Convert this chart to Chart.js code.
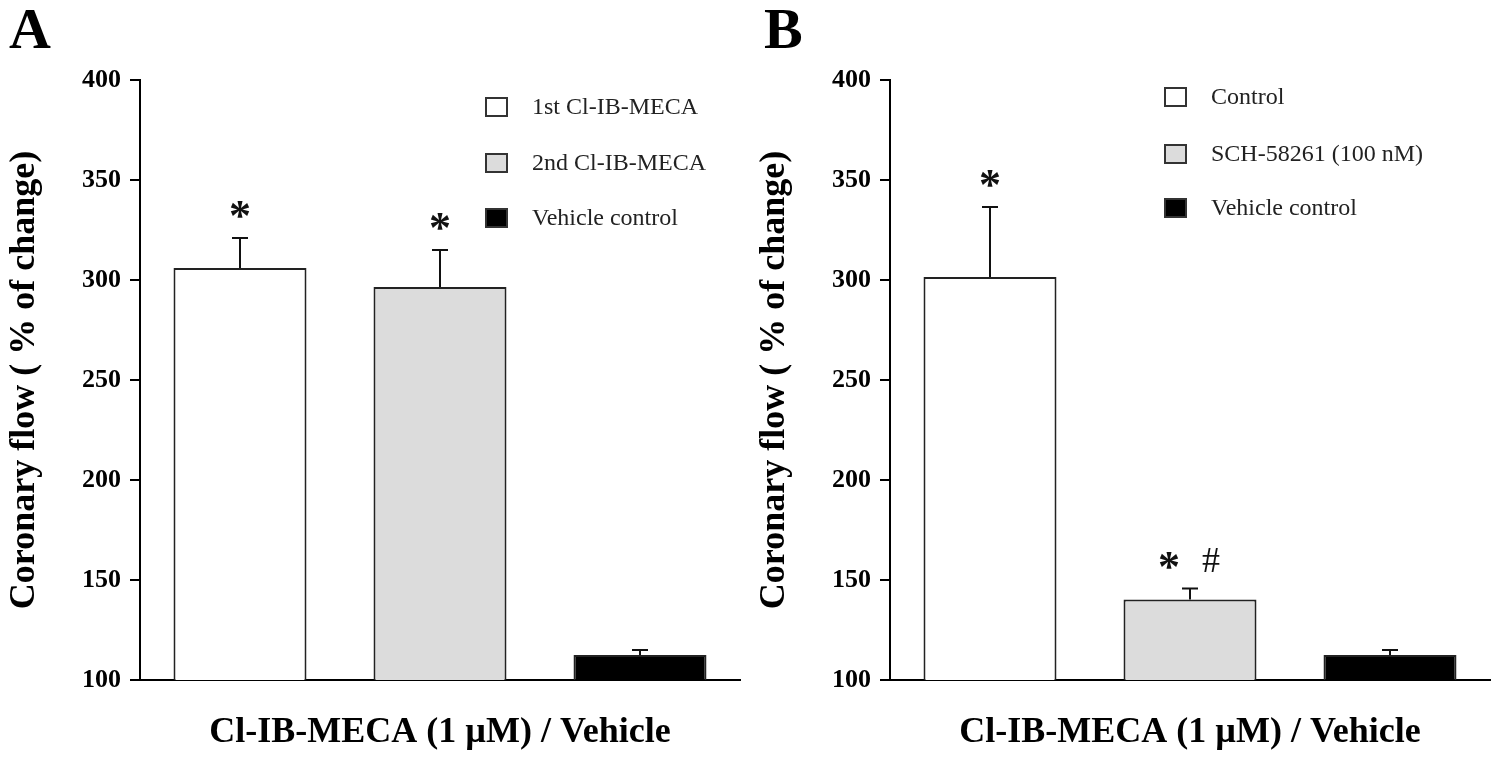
<!DOCTYPE html>
<html>
<head>
<meta charset="utf-8">
<script src="https://cdn.jsdelivr.net/npm/chart.js@4/dist/chart.umd.min.js"></script>
<style>
  html, body { margin: 0; padding: 0; background: #ffffff; }
  #wrap { position: relative; width: 1500px; height: 759px; }
  .panel { position: absolute; top: 0; width: 750px; height: 759px; }
</style>
</head>
<body>
<div id="wrap">
  <div class="panel" style="left:0"><canvas id="cA" width="750" height="759"></canvas></div>
  <div class="panel" style="left:750px"><canvas id="cB" width="750" height="759"></canvas></div>
</div>
<script>
// ---- data ----
const categoriesA = ['1st Cl-IB-MECA', '2nd Cl-IB-MECA', 'Vehicle control'];
const valuesA = [306, 296.5, 112.5];
const errorsA = [15, 18.5, 2.5];
const marksA = [['*'], ['*'], []];

const categoriesB = ['Control', 'SCH-58261 (100 nM)', 'Vehicle control'];
const valuesB = [301.5, 140.3, 112.5];
const errorsB = [35, 5.5, 2.5];
const marksB = [['*'], ['*', '#'], []];

const yTicks = [100, 150, 200, 250, 300, 350, 400];
const barColors = ['#ffffff', '#dcdcdc', '#000000'];

const panelLetters = ['A', 'B'];
const xTitle = 'Cl-IB-MECA (1 \u00b5M) / Vehicle';
const yTitle = 'Coronary flow ( % of change)';

const SERIF = '"Liberation Serif", "Times New Roman", serif';

// ---- plugin: error bars, significance marks, legend, panel letter ----
const decorPlugin = {
  id: 'decor',
  afterDatasetsDraw(chart, args, opts) {
    const ctx = chart.ctx;
    const meta = chart.getDatasetMeta(0);
    const ys = chart.scales.y;
    ctx.save();
    meta.data.forEach((bar, i) => {
      const v = opts.values[i], e = opts.errors[i];
      const yTop = ys.getPixelForValue(v + e);
      const yBar = ys.getPixelForValue(v);
      ctx.strokeStyle = '#111';
      ctx.lineWidth = 2;
      ctx.beginPath();
      ctx.moveTo(bar.x, yBar);
      ctx.lineTo(bar.x, yTop);
      ctx.moveTo(bar.x - 8, yTop);
      ctx.lineTo(bar.x + 8, yTop);
      ctx.stroke();
      const marks = opts.marks[i];
      const cy = yTop - 28.5;
      const gap = 42;
      marks.forEach((m, k) => {
        const cx = bar.x + (k - (marks.length - 1) / 2) * gap;
        ctx.fillStyle = '#111';
        ctx.textAlign = 'center';
        ctx.textBaseline = 'alphabetic';
        if (m === '*') {
          ctx.font = 'bold 44px ' + SERIF;
          ctx.fillText(m, cx, cy + 0.47 * 44);
        } else {
          ctx.font = '36px ' + SERIF;
          ctx.fillText(m, cx, cy + 0.34 * 36);
        }
      });
    });
    ctx.restore();
  },
  afterDraw(chart, args, opts) {
    const ctx = chart.ctx;
    const ds = chart.data.datasets[0];
    ctx.save();
    chart.data.labels.forEach((lab, i) => {
      const cy = opts.legendY[i];
      ctx.fillStyle = ds.backgroundColor[i];
      ctx.fillRect(opts.legendX, cy - 9, 21, 18);
      ctx.strokeStyle = '#333';
      ctx.lineWidth = 2;
      ctx.strokeRect(opts.legendX, cy - 9, 21, 18);
      ctx.fillStyle = '#222';
      ctx.font = '24px ' + SERIF;
      ctx.textAlign = 'left';
      ctx.textBaseline = 'middle';
      ctx.fillText(lab, opts.legendX + 46, cy + 1);
    });
    ctx.fillStyle = '#000';
    ctx.font = 'bold 58px ' + SERIF;
    ctx.textAlign = 'left';
    ctx.textBaseline = 'alphabetic';
    ctx.fillText(opts.letter, opts.letterX, 48);
    ctx.restore();
  }
};

function makeChart(id, categories, values, errors, marks, letter, letterX, legendX, legendY) {
  return new Chart(document.getElementById(id), {
    type: 'bar',
    data: {
      labels: categories,
      datasets: [{
        data: values,
        backgroundColor: barColors,
        borderColor: '#222',
        borderWidth: 2,
        borderSkipped: 'start',
        barPercentage: 0.665,
        categoryPercentage: 1.0
      }]
    },
    options: {
      responsive: false,
      animation: false,
      devicePixelRatio: 1,
      layout: { padding: { top: 80, right: 10, left: 0, bottom: 0 } },
      plugins: {
        legend: { display: false },
        tooltip: { enabled: false },
        decor: { values, errors, marks, letter, letterX, legendX, legendY }
      },
      scales: {
        x: {
          grid: { display: false },
          border: { display: true, color: '#000', width: 2 },
          ticks: { display: false },
          title: {
            display: true,
            text: xTitle,
            color: '#000',
            font: { family: SERIF, size: 36, weight: 'bold' },
            padding: { top: 0, bottom: 5 }
          },
          afterFit(scale) { scale.height = 79; }
        },
        y: {
          min: 100,
          max: 400,
          afterBuildTicks(scale) { scale.ticks = yTicks.map(v => ({ value: v })); },
          grid: { drawOnChartArea: false, drawTicks: true, tickLength: 10, color: '#000', lineWidth: 2 },
          border: { display: true, color: '#000', width: 2 },
          ticks: {
            color: '#000',
            padding: 9,
            font: { family: SERIF, size: 26, weight: 'bold' }
          },
          title: {
            display: true,
            text: yTitle,
            color: '#000',
            font: { family: SERIF, size: 36, weight: 'bold' },
            padding: { top: 3, bottom: 0 }
          },
          afterFit(scale) { scale.width = 140; }
        }
      }
    },
    plugins: [decorPlugin]
  });
}

makeChart('cA', categoriesA, valuesA, errorsA, marksA, panelLetters[0], 9, 486, [107, 163, 218]);
makeChart('cB', categoriesB, valuesB, errorsB, marksB, panelLetters[1], 14, 415, [97, 154, 208]);
</script>
</body>
</html>
